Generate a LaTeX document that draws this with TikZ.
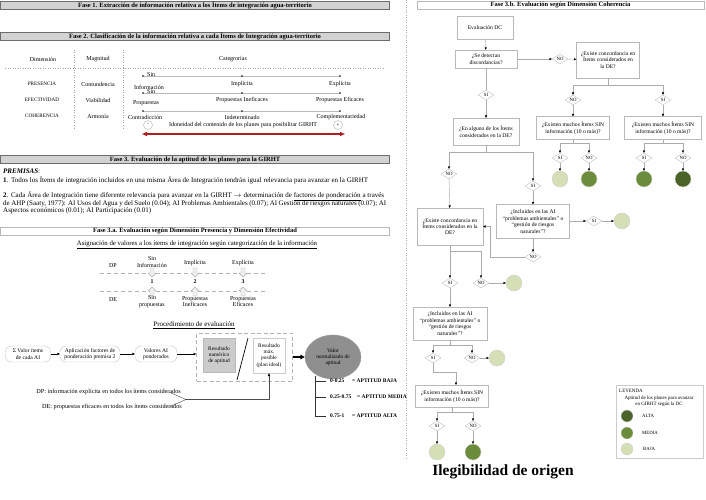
\documentclass[tikz,border=0pt]{standalone}
\usepackage{fontspec}
\setmainfont{Liberation Serif}
\usetikzlibrary{arrows.meta,shapes.geometric,calc}
\definecolor{gl}{HTML}{D5DFB6}
\definecolor{gm}{HTML}{6B8C3A}
\definecolor{gd}{HTML}{4A6329}
\definecolor{redarr}{HTML}{B01E23}
\tikzset{
 hdr/.style={draw=gray!85!black, fill=gray!35, minimum width=389, minimum height=8, inner sep=0, font=\fontsize{6.5}{6.5}\selectfont\bfseries},
 hdrw/.style={hdr, fill=white, draw=gray!55},
 tx/.style={font=\fontsize{6}{6.6}\selectfont, inner sep=0, align=center},
 tl/.style={font=\fontsize{7}{7.5}\selectfont, inner sep=0, anchor=west},
 bx/.style={draw=gray!55, fill=white, align=center, inner sep=1pt, font=\fontsize{5.6}{6.4}\selectfont},
 dm/.style={diamond, draw=gray!50, fill=white, inner sep=0.3pt, minimum width=16, minimum height=10, shape aspect=1.6, font=\fontsize{4.8}{5}\selectfont},
 cr/.style={circle, minimum size=16, inner sep=0, draw=gray!35},
 ln/.style={draw=gray!65, line width=0.45pt},
 ar/.style={ln, -{Triangle[length=2.3pt,width=2.2pt,color=black]}},
 rb/.style={draw=gray!45, rounded corners=6pt, fill=white, align=center, inner sep=1pt, font=\fontsize{5.6}{6.3}\selectfont},
 ap/.style={font=\fontsize{5.5}{6}\selectfont\bfseries, inner sep=0, anchor=west},
 dnar/.pic={\draw[gray!60, fill=gray!12, line width=0.4pt] (-2,-5)--(2,-5)--(2,0)--(4,0)--(0,4)--(-4,0)--(-2,0)--cycle;},
 upar/.pic={\draw[gray!60, fill=gray!12, line width=0.4pt] (-2,5)--(2,5)--(2,0)--(4,0)--(0,-4)--(-4,0)--(-2,0)--cycle;},
}
\begin{document}
\begin{tikzpicture}[x=1pt,y=-1pt]
\useasboundingbox (0,0) rectangle (706,500);
\fill[white] (0,0) rectangle (706,500);
% ---------- LEFT PANEL ----------
\node[hdr] (f1) at (195,5) {Fase 1. Extracción de información relativa a los Ítems de integración agua-territorio};
\node[hdr] (f2) at (195,36.5) {Fase 2. Clasificación de la información relativa a cada Ítems de Integración agua-territorio};
% table
\node[tx] (dim) at (43,59) {Dimensión};
\node[tx] (mag) at (98,59) {Magnitud};
\node[tx] (cat) at (233,59) {Categrorías};
\draw[gray!70, dotted, line width=0.5pt] (5,68)--(385,68);
\draw[gray!70, dotted, line width=0.5pt] (74,50)--(74,128);
\draw[gray!70, dotted, line width=0.5pt] (123,50)--(123,128);
\node[tx, font=\fontsize{5.2}{5.5}\selectfont] (pres) at (42,84) {PRESENCIA};
\node[tx] (cont) at (98,84) {Contundencia};
\node[tx, font=\fontsize{5.2}{5.5}\selectfont] (efec) at (42,100) {EFECTIVIDAD};
\node[tx] (viab) at (98,100) {Viabilidad};
\node[tx, font=\fontsize{5.2}{5.5}\selectfont] (cohe) at (42,116) {COHERENCIA};
\node[tx] (armo) at (98,116) {Armonía};
\foreach \yy in {76,93,111}{
  \draw[gray!55, line width=0.4pt] (143,\yy)--(340,\yy);
  \foreach \xx in {143,242,340} \fill (\xx,\yy) circle (0.9);
}
\node[tx, anchor=west] (s1) at (147,75) {Sin};
\node[tx] (s1b) at (149,87) {Información};
\node[tx] (impl) at (242,84) {Implícita};
\node[tx] (expl) at (340,84) {Explícita};
\node[tx, anchor=west] (s2) at (147,92) {Sin};
\node[tx] (s2b) at (146,103.5) {Propuestas};
\node[tx] (pine) at (242,100) {Propuestas Ineficaces};
\node[tx] (pefi) at (340,100) {Propuestas Eficaces};
\node[tx] (cntr) at (145,117) {Contradicción};
\node[tx] (inde) at (242,117) {Indeterminado};
\node[tx] (comp) at (341,117) {Complementariedad};
\node[circle, draw=gray!60, minimum size=9, inner sep=0, font=\fontsize{5}{5}\selectfont] (mn) at (148,125) {-};
\node[circle, draw=gray!60, minimum size=9, inner sep=0, font=\fontsize{5}{5}\selectfont] (pl) at (338,125) {+};
\node[tx] (idon) at (243,125) {Idoneidad del contenido de los planes para posibilitar GIRHT};
\draw[redarr, line width=1.2pt, {Triangle[length=5pt,width=4pt]}-{Triangle[length=5pt,width=4pt]}] (142,134)--(345,134);
% Fase 3
\node[hdr] (f3) at (195,159.5) {Fase 3. Evaluación de la aptitud de los planes para la GIRHT};
\node[tl] (prem) at (3,171) {\textbf{\textit{PREMISAS}}:};
\node[tl] (p1) at (3,180) {\makebox[365pt][s]{\textbf{1}. Todos los Ítems de integración incluidos en una misma Área de Integración tendrán igual relevancia para avanzar en la GIRHT}};
\node[tl] (p2a) at (3,196) {\makebox[381pt][s]{\textbf{2}. Cada Área de Integración tiene diferente relevancia para avanzar en la GIRHT $\rightarrow$ determinación de \underline{factores de ponderación} a través}};
\node[tl] (p2b) at (3,203.5) {\makebox[383pt][s]{de AHP (Saaty, 1977): AI Usos del Agua y del Suelo (0.04); AI Problemas Ambientales (0.07); AI Gestión de riesgos naturales (0.07); AI}};
\node[tl] (p2c) at (3,211) {Aspectos económicos (0.01); AI Participación (0.01)};
% Fase 3.a
\node[hdrw] (f3a) at (195,231) {Fase 3.a. Evaluación según Dimensión Presencia y Dimensión Efectividad};
\node[tx, font=\fontsize{6.8}{7}\selectfont] (asig) at (197,245) {\underline{Asignación de valores a los ítems de integración según categorización de la información}};
\node[tx] (dp) at (113,266) {DP};
\node[tx] (de) at (113,299.5) {DE};
\draw[gray!60, line width=0.5pt, dash pattern=on 4pt off 3pt] (100,273)--(267,273);
\draw[gray!60, line width=0.5pt, dash pattern=on 4pt off 3pt] (100,291)--(267,291);
\foreach \xx in {152,195,243}{
  \pic at (\xx,273) {dnar};
  \pic at (\xx,291) {upar};
}
\node[tx] (la1) at (152,262) {Sin\\Información};
\node[tx] (la2) at (195,263.5) {Implícita};
\node[tx] (la3) at (243,263.5) {Explícita};
\node[tx, font=\fontsize{5.8}{6}\selectfont\bfseries] (n1) at (152,282) {1};
\node[tx, font=\fontsize{5.8}{6}\selectfont\bfseries] (n2) at (195,282) {2};
\node[tx, font=\fontsize{5.8}{6}\selectfont\bfseries] (n3) at (243,282) {3};
\node[tx] (lb1) at (152,301.5) {Sin\\propuestas};
\node[tx] (lb2) at (195,301.5) {Propuestas\\Ineficaces};
\node[tx] (lb3) at (243,301.5) {Propuestas\\Eficaces};
\node[tx, font=\fontsize{7}{7.5}\selectfont] (proc) at (194,325) {\underline{Procedimiento de evaluación}};
\node[rb, minimum width=45, minimum height=16] (b1) at (28,354) {Σ Valor ítems\\de cada AI};
\node[rb, minimum width=60, minimum height=16] (b2) at (90,354) {Aplicación factores de\\ponderación premisa 2};
\node[rb, minimum width=42, minimum height=16] (b3) at (156,354) {Valores AI\\ponderados};
\node[draw=gray!60, line width=0.8pt, dash pattern=on 4pt off 2.5pt, minimum width=96, minimum height=48, inner sep=0] (dbox) at (244.5,357) {};
\node[draw=gray!55, fill=gray!40, minimum width=32, minimum height=34, align=center, inner sep=0, font=\fontsize{5.4}{6.2}\selectfont] (r1) at (219,355) {Resultado\\numérico\\de aptitud};
\node[draw=gray!40, fill=white, minimum width=32, minimum height=35, align=center, inner sep=0, font=\fontsize{5.4}{6.2}\selectfont] (r2) at (269,355.5) {Resultado\\máx.\\posible\\(plan ideal)};
\draw[black, line width=0.7pt] (248,338)--(237,380);
\node[ellipse, draw=gray!80, fill=gray!88, minimum width=56, minimum height=44, align=center, inner sep=0, font=\fontsize{5.4}{6.2}\selectfont] (val) at (333,357) {Valor\\normalizado de\\aptitud};
\draw[-{Triangle[length=2.5pt,width=2.5pt]}, black, line width=0.5pt] (b1) -- (b2);
\draw[-{Triangle[length=2.5pt,width=2.5pt]}, black, line width=0.5pt] (b2) -- (b3);
\draw[-{Triangle[length=2.5pt,width=2.5pt]}, black, line width=0.5pt] (b3) -- (dbox.west |- b3);
\draw[-{Triangle[length=4.5pt,width=4.5pt]}, black, line width=1.3pt] (dbox.east |- val) -- (val.west);
% aptitud scale
\coordinate (vt) at (315,376);
\draw[gray!40!black, line width=0.5pt] (vt) -- (315,416);
\foreach \yy in {381,397,416} \draw[gray!40!black, line width=0.5pt] (315,\yy)--(326,\yy);
\node[ap] (a1) at (330,381) {0-0.25};
\node[ap] (a2) at (330,397) {0.25-0.75};
\node[ap] (a3) at (330,416) {0.75-1};
\node[ap] (e1) at (352,381) {= APTITUD BAJA};
\node[ap] (e2) at (357,397) {= APTITUD MEDIA};
\node[ap] (e3) at (352,416) {= APTITUD ALTA};
% DP DE
\node[tx, anchor=east, font=\fontsize{6.2}{6.5}\selectfont] (dpt) at (181,392) {DP: información explícita en todos los ítems considerados};
\node[tx, anchor=east, font=\fontsize{6.2}{6.5}\selectfont] (det) at (182,407) {DE: propuestas eficaces en todos los ítems considerados};
\coordinate (brk) at (186,399.5);
\draw[gray!60!black, line width=0.4pt] (170,392.5) -- (brk) -- (170,406.5);
\draw[gray!60!black, line width=0.5pt, -{Triangle[length=3pt,width=2.5pt,color=black]}] (brk) -| (r2.south);
% ---------- RIGHT PANEL ----------
\draw[gray!60, dotted, line width=0.5pt] (406,0)--(406,458);
\node[hdrw, minimum width=287] (f3b) at (560.5,5) {Fase 3.b. Evaluación según Dimensión Coherencia};
\node[bx, minimum width=56, minimum height=23] (ev) at (485,28) {Evaluación DC};
\node[bx, minimum width=62, minimum height=18] (q1) at (486,59) {¿Se detectan\\discordancias?};
\node[dm] (d1no) at (560,59) {NO};
\node[bx, minimum width=63, minimum height=36] (q2) at (608,60) {¿Existe concordancia en\\Ítems considerados en\\la DE?};
\node[dm] (d1si) at (486,95) {SI};
\node[bx, minimum width=66, minimum height=27] (q3) at (486,131.5) {¿En alguno de los Ítems\\considerados en la DE?};
\node[dm] (d2no) at (573,100) {NO};
\node[dm] (d2si) at (663,100) {SI};
\node[bx, minimum width=73, minimum height=23] (q4) at (573,128) {¿Existen muchos Ítems SIN\\información (10 o más)?};
\node[bx, minimum width=77, minimum height=23] (q5) at (663,128) {¿Existen muchos Ítems SIN\\información (10 o más)?};
\node[dm] (d4si) at (560,158) {SI};
\node[dm] (d4no) at (589,158) {NO};
\node[cr, fill=gl] (c1) at (560,179) {};
\node[cr, fill=gm] (c2) at (589,179) {};
\node[dm] (d5si) at (644,158) {SI};
\node[dm] (d5no) at (683,158) {NO};
\node[cr, fill=gm] (c3) at (644,179) {};
\node[cr, fill=gd] (c4) at (683,179) {};
\node[dm] (d3no) at (449,174) {NO};
\node[dm] (d3si) at (533,186) {SI};
\node[bx, minimum width=66, minimum height=37] (q6) at (450,226.5) {¿Existe concordancia en\\Ítems considerados en la\\DE?};
\node[bx, minimum width=73, minimum height=34] (q7) at (533,221.5) {¿Incluidos en las AI\\“problemas ambientales” o\\“gestión de riesgos\\naturales”?};
\node[dm] (d7si) at (594,221) {SI};
\node[cr, fill=gl] (c5) at (622,221) {};
\node[dm] (d7no) at (533,257) {NO};
\node[dm] (d6si) at (450,283) {SI};
\node[dm] (d6no) at (481,283) {NO};
\node[cr, fill=gl] (c6) at (514,283) {};
\node[bx, minimum width=74, minimum height=33] (q8) at (450,323.5) {¿Incluidos en las AI\\“problemas ambientales” o\\“gestión de riesgos\\naturales”?};
\node[dm] (d8si) at (433,358) {SI};
\node[dm] (d8no) at (472,358) {NO};
\node[cr, fill=gl] (c7) at (497,358) {};
\node[bx, minimum width=73, minimum height=22] (q9) at (452,396) {¿Existen muchos Ítems SIN\\información (10 o más)?};
\node[dm] (d9si) at (437,426) {SI};
\node[dm] (d9no) at (473,426) {NO};
\node[cr, fill=gl] (c8) at (437,452) {};
\node[cr, fill=gm] (c9) at (473,452) {};
% connectors
\draw[ar] (ev) -- (q1);
\draw[ar] (q1) -- (d1no);
\draw[ar] (d1no) -- (q2);
\draw[ln] (q1) -- (d1si);
\draw[ar] (d1si) -- (q3);
\draw[ln] (q2.south) -- ++(0,7) coordinate (j2);
\draw[ar] (j2) -| (d2no.north);
\draw[ar] (j2) -| (d2si.north);
\draw[ar] (d2no) -- (q4);
\draw[ar] (d2si) -- (q5);
\draw[ln] (q4.south) -- ++(0,4) coordinate (j4);
\draw[ar] (j4) -| (d4si.north);
\draw[ar] (j4) -| (d4no.north);
\draw[ar] (d4si) -- (c1);
\draw[ar] (d4no) -- (c2);
\draw[ln] (q5.south) -- ++(0,4) coordinate (j5);
\draw[ar] (j5) -| (d5si.north);
\draw[ar] (j5) -| (d5no.north);
\draw[ar] (d5si) -- (c3);
\draw[ar] (d5no) -- (c4);
\draw[ln] (q3.south) -- ++(0,7) coordinate (j3);
\draw[ar] (j3) -| (d3no.north);
\draw[ar] (j3) -| (d3si.north);
\draw[ar] (d3no) -- (q6);
\draw[ar] (d3si) -- (q7);
\draw[ar] (q7.east |- d7si) -- (d7si);
\draw[ar] (d7si) -- (c5);
\draw[ar] (q7) -- (d7no);
\draw[ar] (d7no.west) -- (490,257) |- (q6.east);
\draw[ln] (q6.south) -- ++(0,6) coordinate (j6);
\draw[ar] (j6) -| (d6si.north);
\draw[ar] (j6) -| (d6no.north);
\draw[ar] (d6no) -- (c6);
\draw[ar] (d6si) -- (q8);
\draw[ln] (q8.south) -- ++(0,5) coordinate (j8);
\draw[ar] (j8) -| (d8si.north);
\draw[ar] (j8) -| (d8no.north);
\draw[ar] (d8no) -- (c7);
\draw[ar] (d8si.south) -- ++(0,9) -| ([xshift=4pt]q9.north);
\draw[ln] (q9.south) -- ++(0,5) coordinate (j9);
\draw[ar] (j9) -| (d9si.north);
\draw[ar] (j9) -| (d9no.north);
\draw[ar] (d9si) -- (c8);
\draw[ar] (d9no) -- (c9);
% legend
\node[draw=gray!40, fill=white, minimum width=87, minimum height=73, inner sep=0] (leg) at (659.5,421.5) {};
\node[tx, anchor=west, font=\fontsize{5}{5.5}\selectfont] (legt) at (619,391) {LEYENDA};
\node[tx, font=\fontsize{5}{5.8}\selectfont] (legd) at (659,401.5) {Aptitud de los planes para avanzar\\en GIRHT según la DC};
\node[cr, minimum size=12, fill=gd] (lc1) at (627,416) {};
\node[cr, minimum size=12, fill=gm] (lc2) at (627,433) {};
\node[cr, minimum size=12, fill=gl] (lc3) at (627,449) {};
\node[tx, anchor=west, font=\fontsize{4.8}{5}\selectfont] (ll1) at (642,416) {ALTA};
\node[tx, anchor=west, font=\fontsize{4.8}{5}\selectfont] (ll2) at (642,433) {MEDIA};
\node[tx, anchor=west, font=\fontsize{4.8}{5}\selectfont] (ll3) at (643,449) {BAJA};
% caption
\node[inner sep=0, font=\fontsize{15.5}{17}\selectfont\bfseries] (cap) at (503,472) {Ilegibilidad de origen};
\end{tikzpicture}
\end{document}
